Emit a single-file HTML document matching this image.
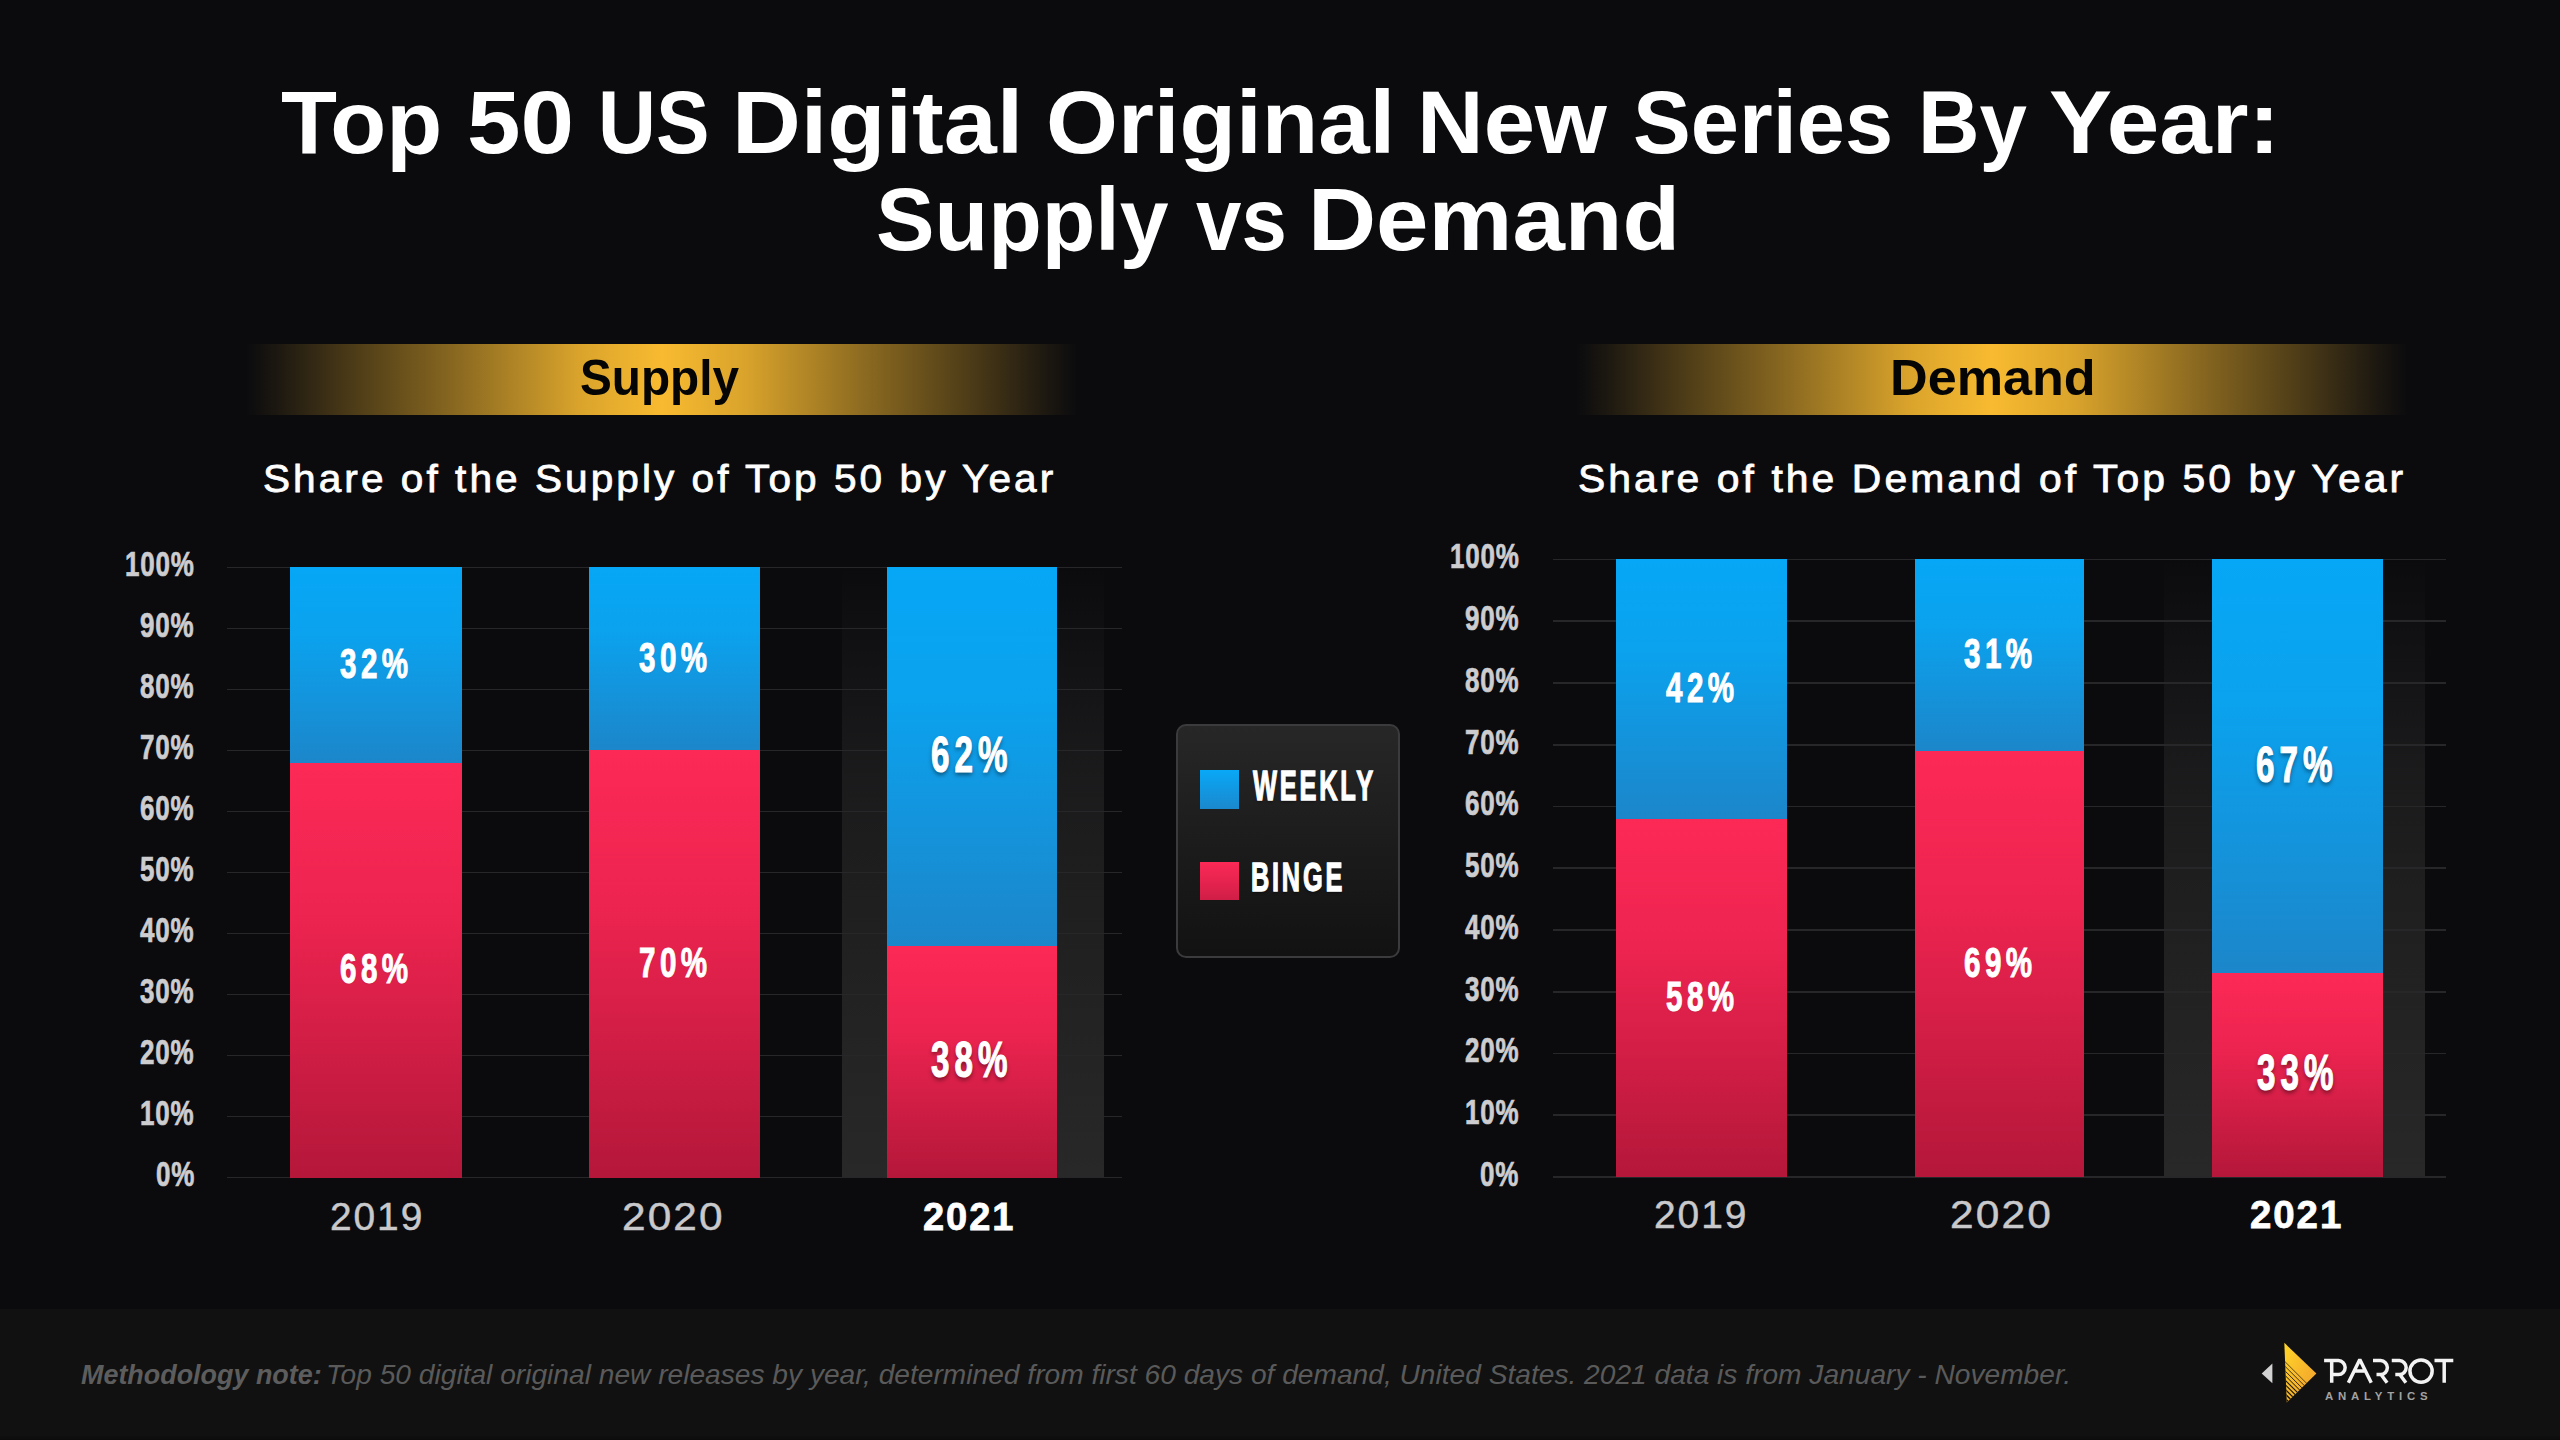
<!DOCTYPE html>
<html><head><meta charset="utf-8"><title>Top 50 US Digital Original New Series By Year</title>
<style>
html,body{margin:0;padding:0}
body{width:2560px;height:1440px;overflow:hidden;background:#0b0b0e;position:relative;font-family:"Liberation Sans",sans-serif}
.t{position:absolute;white-space:nowrap;line-height:1;transform-origin:0 0;font-family:"Liberation Sans",sans-serif}
.g{position:absolute;height:1.8px;background:#27272a}
.hl{position:absolute;background:linear-gradient(180deg,rgba(40,40,40,0) 0%,rgba(40,40,40,.55) 35%,#282828 100%)}
.bw{position:absolute;background:linear-gradient(180deg,#06a7f6 0%,#0ba2ee 35%,#1c86ca 100%)}
.bb{position:absolute;background:linear-gradient(180deg,#fc2956 0%,#ee2450 35%,#b4173a 100%)}
.gold{position:absolute;background:linear-gradient(90deg,rgba(248,186,48,0) 0%,rgba(248,186,48,.08) 4%,rgba(248,186,48,.28) 13%,rgba(248,186,48,.55) 26%,rgba(248,186,48,.87) 40%,#f8ba30 50%,rgba(248,186,48,.87) 60%,rgba(248,186,48,.55) 74%,rgba(248,186,48,.28) 87%,rgba(248,186,48,.08) 96%,rgba(248,186,48,0) 100%)}
.foot{position:absolute;left:0;top:1309px;width:2560px;height:131px;background:linear-gradient(180deg,#111 0,#111 126px,#0c0c0c 131px)}
.legend{position:absolute;left:1176px;top:724px;width:220px;height:229.5px;border:2px solid #3b3b3d;border-radius:10px;background:linear-gradient(180deg,#272727 0%,#1c1c1c 50%,#121212 100%)}
.sq{position:absolute;left:1200px;width:39px;height:38.5px}

</style></head>
<body>
<div class="gold" style="left:246px;top:343.5px;width:832px;height:71.5px"></div>
<div class="gold" style="left:1576px;top:343.5px;width:832px;height:71.5px"></div>
<div class="hl" style="left:841.7px;top:565.4px;width:262.3px;height:612.2px"></div>
<div class="g" style="left:227px;top:566.50px;width:895px"></div>
<div class="g" style="left:227px;top:627.52px;width:895px"></div>
<div class="g" style="left:227px;top:688.54px;width:895px"></div>
<div class="g" style="left:227px;top:749.56px;width:895px"></div>
<div class="g" style="left:227px;top:810.58px;width:895px"></div>
<div class="g" style="left:227px;top:871.60px;width:895px"></div>
<div class="g" style="left:227px;top:932.62px;width:895px"></div>
<div class="g" style="left:227px;top:993.64px;width:895px"></div>
<div class="g" style="left:227px;top:1054.66px;width:895px"></div>
<div class="g" style="left:227px;top:1115.68px;width:895px"></div>
<div class="g" style="left:227px;top:1176.70px;width:895px"></div>
<div class="bw" style="left:290px;top:567.40px;width:171.5px;height:195.26px"></div>
<div class="bb" style="left:290px;top:762.66px;width:171.5px;height:414.94px"></div>
<div class="bw" style="left:589.3px;top:567.40px;width:171.0px;height:183.06px"></div>
<div class="bb" style="left:589.3px;top:750.46px;width:171.0px;height:427.14px"></div>
<div class="bw" style="left:886.7px;top:567.40px;width:170.6px;height:378.32px"></div>
<div class="bb" style="left:886.7px;top:945.72px;width:170.6px;height:231.88px"></div>
<div class="hl" style="left:2164px;top:557.4px;width:261.0px;height:619.6px"></div>
<div class="g" style="left:1552.5px;top:558.50px;width:893.5px"></div>
<div class="g" style="left:1552.5px;top:620.26px;width:893.5px"></div>
<div class="g" style="left:1552.5px;top:682.02px;width:893.5px"></div>
<div class="g" style="left:1552.5px;top:743.78px;width:893.5px"></div>
<div class="g" style="left:1552.5px;top:805.54px;width:893.5px"></div>
<div class="g" style="left:1552.5px;top:867.30px;width:893.5px"></div>
<div class="g" style="left:1552.5px;top:929.06px;width:893.5px"></div>
<div class="g" style="left:1552.5px;top:990.82px;width:893.5px"></div>
<div class="g" style="left:1552.5px;top:1052.58px;width:893.5px"></div>
<div class="g" style="left:1552.5px;top:1114.34px;width:893.5px"></div>
<div class="g" style="left:1552.5px;top:1176.10px;width:893.5px"></div>
<div class="bw" style="left:1616px;top:559.40px;width:170.8px;height:259.39px"></div>
<div class="bb" style="left:1616px;top:818.79px;width:170.8px;height:358.21px"></div>
<div class="bw" style="left:1914.8px;top:559.40px;width:169.4px;height:191.46px"></div>
<div class="bb" style="left:1914.8px;top:750.86px;width:169.4px;height:426.14px"></div>
<div class="bw" style="left:2212px;top:559.40px;width:171.0px;height:413.79px"></div>
<div class="bb" style="left:2212px;top:973.19px;width:171.0px;height:203.81px"></div>
<div class="legend"></div>
<div class="sq" style="top:770px;background:linear-gradient(180deg,#08a8f7,#1b88cd)"></div>
<div class="sq" style="top:861.5px;background:linear-gradient(180deg,#fc2956,#d01e47)"></div>
<div class="foot"></div>
<svg style="position:absolute;left:2250px;top:1335px" width="230" height="80" viewBox="0 0 230 80">
<defs>
<linearGradient id="gd" x1="0" y1="0" x2="1" y2="1"><stop offset="0" stop-color="#ffd629"/><stop offset="0.55" stop-color="#f7b52b"/><stop offset="1" stop-color="#ee9c2f"/></linearGradient>
<clipPath id="tri"><polygon points="34.3,7.8 66.4,38.5 36.8,67.4"/></clipPath>
</defs>
<polygon points="11.7,38.5 22.4,28.4 22.4,48.2" fill="#d2d2d2"/>
<polygon points="34.3,7.8 66.4,38.5 36.8,67.4" fill="url(#gd)"/>
<g clip-path="url(#tri)">
<line x1="33" y1="24.7" x2="75" y2="66.7" stroke="#15130f" stroke-width="0.70"/>
<line x1="33" y1="29.3" x2="75" y2="71.3" stroke="#15130f" stroke-width="0.80"/>
<line x1="33" y1="33.9" x2="75" y2="75.9" stroke="#15130f" stroke-width="0.90"/>
<line x1="33" y1="38.4" x2="75" y2="80.4" stroke="#15130f" stroke-width="1.00"/>
<line x1="33" y1="43.0" x2="75" y2="85.0" stroke="#15130f" stroke-width="1.10"/>
<line x1="33" y1="47.5" x2="75" y2="89.5" stroke="#15130f" stroke-width="1.20"/>
<line x1="33" y1="52.1" x2="75" y2="94.1" stroke="#15130f" stroke-width="1.30"/>
<line x1="33" y1="56.7" x2="75" y2="98.7" stroke="#15130f" stroke-width="1.40"/>
<line x1="33" y1="61.2" x2="75" y2="103.2" stroke="#15130f" stroke-width="1.50"/>
</g>
<g fill="none" stroke="#f3f3f3" stroke-width="3.5" stroke-linejoin="bevel">
<path d="M74.1,25.55 H88.4 A7.03,7.03 0 0 1 88.4,39.6 H82.5 M81.7,25.55 V47.8"/>
<path d="M98.4,47.8 L109.8,24.6 L121.25,47.8 M104.4,36.1 H115.3"/>
<path d="M123,25.55 H130.6 A7.03,7.03 0 0 1 130.6,39.6 H126.5 M131.2,39.8 L137.1,47.8"/>
<path d="M141.75,25.55 H149.4 A7.03,7.03 0 0 1 149.4,39.6 H145.3 M150,39.8 L155.9,47.8"/>
<circle cx="171.05" cy="36.1" r="11.1"/>
<path d="M184.5,25.55 H203.3 M194.2,25.55 V47.8"/>
</g>
</svg>
<div class="t" style="left:281.08px;top:77.76px;font-size:88.99px;font-weight:700;color:#fff;transform:scaleX(1.0301);">Top</div>
<div class="t" style="left:467.12px;top:77.76px;font-size:88.99px;font-weight:700;color:#fff;transform:scaleX(1.0806);">50</div>
<div class="t" style="left:597.69px;top:77.76px;font-size:88.99px;font-weight:700;color:#fff;transform:scaleX(0.9016);">US</div>
<div class="t" style="left:732.08px;top:77.76px;font-size:88.99px;font-weight:700;color:#fff;transform:scaleX(1.0709);">Digital</div>
<div class="t" style="left:1046.30px;top:77.76px;font-size:88.99px;font-weight:700;color:#fff;transform:scaleX(1.0387);">Original</div>
<div class="t" style="left:1417.14px;top:77.76px;font-size:88.99px;font-weight:700;color:#fff;transform:scaleX(1.0368);">New</div>
<div class="t" style="left:1633.00px;top:77.76px;font-size:88.99px;font-weight:700;color:#fff;transform:scaleX(0.9738);">Series</div>
<div class="t" style="left:1917.79px;top:77.76px;font-size:88.99px;font-weight:700;color:#fff;transform:scaleX(0.9576);">By</div>
<div class="t" style="left:2049.11px;top:77.76px;font-size:88.99px;font-weight:700;color:#fff;transform:scaleX(1.0611);">Year:</div>
<div class="t" style="left:876.37px;top:175.06px;font-size:88.99px;font-weight:700;color:#fff;transform:scaleX(0.9862);">Supply</div>
<div class="t" style="left:1195.50px;top:175.06px;font-size:88.99px;font-weight:700;color:#fff;transform:scaleX(0.9169);">vs</div>
<div class="t" style="left:1308.40px;top:175.06px;font-size:88.99px;font-weight:700;color:#fff;transform:scaleX(1.0598);">Demand</div>
<div class="t" style="left:579.77px;top:352.82px;font-size:49.28px;font-weight:700;color:#050505;transform:scaleX(0.9686);">Supply</div>
<div class="t" style="left:1890.35px;top:352.82px;font-size:49.28px;font-weight:700;color:#050505;transform:scaleX(1.0584);">Demand</div>
<div class="t" style="left:263.18px;top:459.27px;font-size:39.57px;font-weight:400;letter-spacing:0.075em;color:#fff;transform:scaleX(1.0257);-webkit-text-stroke:0.02em #fff;">Share of the Supply of Top 50 by Year</div>
<div class="t" style="left:1578.37px;top:459.27px;font-size:39.57px;font-weight:400;letter-spacing:0.075em;color:#fff;transform:scaleX(1.0328);-webkit-text-stroke:0.02em #fff;">Share of the Demand of Top 50 by Year</div>
<div class="t" style="left:125.20px;top:547.28px;font-size:35.89px;font-weight:700;letter-spacing:0.03em;color:#cdcdd0;transform:scaleX(0.7236);-webkit-text-stroke:0.02em #cdcdd0;">100%</div>
<div class="t" style="left:140.26px;top:608.30px;font-size:35.89px;font-weight:700;letter-spacing:0.03em;color:#cdcdd0;transform:scaleX(0.7236);-webkit-text-stroke:0.02em #cdcdd0;">90%</div>
<div class="t" style="left:140.26px;top:669.32px;font-size:35.89px;font-weight:700;letter-spacing:0.03em;color:#cdcdd0;transform:scaleX(0.7236);-webkit-text-stroke:0.02em #cdcdd0;">80%</div>
<div class="t" style="left:140.26px;top:730.34px;font-size:35.89px;font-weight:700;letter-spacing:0.03em;color:#cdcdd0;transform:scaleX(0.7236);-webkit-text-stroke:0.02em #cdcdd0;">70%</div>
<div class="t" style="left:140.26px;top:791.36px;font-size:35.89px;font-weight:700;letter-spacing:0.03em;color:#cdcdd0;transform:scaleX(0.7236);-webkit-text-stroke:0.02em #cdcdd0;">60%</div>
<div class="t" style="left:140.26px;top:852.38px;font-size:35.89px;font-weight:700;letter-spacing:0.03em;color:#cdcdd0;transform:scaleX(0.7236);-webkit-text-stroke:0.02em #cdcdd0;">50%</div>
<div class="t" style="left:140.26px;top:913.40px;font-size:35.89px;font-weight:700;letter-spacing:0.03em;color:#cdcdd0;transform:scaleX(0.7236);-webkit-text-stroke:0.02em #cdcdd0;">40%</div>
<div class="t" style="left:140.26px;top:974.42px;font-size:35.89px;font-weight:700;letter-spacing:0.03em;color:#cdcdd0;transform:scaleX(0.7236);-webkit-text-stroke:0.02em #cdcdd0;">30%</div>
<div class="t" style="left:140.26px;top:1035.44px;font-size:35.89px;font-weight:700;letter-spacing:0.03em;color:#cdcdd0;transform:scaleX(0.7236);-webkit-text-stroke:0.02em #cdcdd0;">20%</div>
<div class="t" style="left:140.26px;top:1096.46px;font-size:35.89px;font-weight:700;letter-spacing:0.03em;color:#cdcdd0;transform:scaleX(0.7236);-webkit-text-stroke:0.02em #cdcdd0;">10%</div>
<div class="t" style="left:155.59px;top:1157.48px;font-size:35.89px;font-weight:700;letter-spacing:0.03em;color:#cdcdd0;transform:scaleX(0.7236);-webkit-text-stroke:0.02em #cdcdd0;">0%</div>
<div class="t" style="left:340.15px;top:643.09px;font-size:42.47px;font-weight:700;letter-spacing:0.15em;color:#fff;transform:scaleX(0.6961);-webkit-text-stroke:0.024em #fff;text-shadow:0 1px 2px rgba(0,0,0,.12);">32%</div>
<div class="t" style="left:340.01px;top:948.19px;font-size:42.47px;font-weight:700;letter-spacing:0.15em;color:#fff;transform:scaleX(0.6961);-webkit-text-stroke:0.024em #fff;text-shadow:0 1px 2px rgba(0,0,0,.12);">68%</div>
<div class="t" style="left:639.20px;top:636.98px;font-size:42.47px;font-weight:700;letter-spacing:0.15em;color:#fff;transform:scaleX(0.6961);-webkit-text-stroke:0.024em #fff;text-shadow:0 1px 2px rgba(0,0,0,.12);">30%</div>
<div class="t" style="left:638.91px;top:942.08px;font-size:42.47px;font-weight:700;letter-spacing:0.15em;color:#fff;transform:scaleX(0.6961);-webkit-text-stroke:0.024em #fff;text-shadow:0 1px 2px rgba(0,0,0,.12);">70%</div>
<div class="t" style="left:930.89px;top:730.88px;font-size:49.86px;font-weight:700;letter-spacing:0.15em;color:#fff;transform:scaleX(0.6661);-webkit-text-stroke:0.024em #fff;text-shadow:0 3px 5px rgba(0,0,0,.45);">62%</div>
<div class="t" style="left:931.05px;top:1035.98px;font-size:49.86px;font-weight:700;letter-spacing:0.15em;color:#fff;transform:scaleX(0.6661);-webkit-text-stroke:0.024em #fff;text-shadow:0 3px 5px rgba(0,0,0,.45);">38%</div>
<div class="t" style="left:329.65px;top:1198.09px;font-size:38.63px;font-weight:400;letter-spacing:0.05em;color:#c9c9cb;transform:scaleX(1.0061);-webkit-text-stroke:0.012em #c9c9cb;">2019</div>
<div class="t" style="left:621.91px;top:1198.09px;font-size:38.63px;font-weight:400;letter-spacing:0.05em;color:#c9c9cb;transform:scaleX(1.0962);-webkit-text-stroke:0.012em #c9c9cb;">2020</div>
<div class="t" style="left:922.74px;top:1198.09px;font-size:38.63px;font-weight:700;letter-spacing:0.05em;color:#fff;transform:scaleX(0.9857);-webkit-text-stroke:0.02em #fff;">2021</div>
<div class="t" style="left:1449.80px;top:539.28px;font-size:35.89px;font-weight:700;letter-spacing:0.03em;color:#cdcdd0;transform:scaleX(0.7236);-webkit-text-stroke:0.02em #cdcdd0;">100%</div>
<div class="t" style="left:1464.86px;top:601.04px;font-size:35.89px;font-weight:700;letter-spacing:0.03em;color:#cdcdd0;transform:scaleX(0.7236);-webkit-text-stroke:0.02em #cdcdd0;">90%</div>
<div class="t" style="left:1464.86px;top:662.80px;font-size:35.89px;font-weight:700;letter-spacing:0.03em;color:#cdcdd0;transform:scaleX(0.7236);-webkit-text-stroke:0.02em #cdcdd0;">80%</div>
<div class="t" style="left:1464.86px;top:724.56px;font-size:35.89px;font-weight:700;letter-spacing:0.03em;color:#cdcdd0;transform:scaleX(0.7236);-webkit-text-stroke:0.02em #cdcdd0;">70%</div>
<div class="t" style="left:1464.86px;top:786.32px;font-size:35.89px;font-weight:700;letter-spacing:0.03em;color:#cdcdd0;transform:scaleX(0.7236);-webkit-text-stroke:0.02em #cdcdd0;">60%</div>
<div class="t" style="left:1464.86px;top:848.08px;font-size:35.89px;font-weight:700;letter-spacing:0.03em;color:#cdcdd0;transform:scaleX(0.7236);-webkit-text-stroke:0.02em #cdcdd0;">50%</div>
<div class="t" style="left:1464.86px;top:909.84px;font-size:35.89px;font-weight:700;letter-spacing:0.03em;color:#cdcdd0;transform:scaleX(0.7236);-webkit-text-stroke:0.02em #cdcdd0;">40%</div>
<div class="t" style="left:1464.86px;top:971.60px;font-size:35.89px;font-weight:700;letter-spacing:0.03em;color:#cdcdd0;transform:scaleX(0.7236);-webkit-text-stroke:0.02em #cdcdd0;">30%</div>
<div class="t" style="left:1464.86px;top:1033.36px;font-size:35.89px;font-weight:700;letter-spacing:0.03em;color:#cdcdd0;transform:scaleX(0.7236);-webkit-text-stroke:0.02em #cdcdd0;">20%</div>
<div class="t" style="left:1464.86px;top:1095.12px;font-size:35.89px;font-weight:700;letter-spacing:0.03em;color:#cdcdd0;transform:scaleX(0.7236);-webkit-text-stroke:0.02em #cdcdd0;">10%</div>
<div class="t" style="left:1480.19px;top:1156.88px;font-size:35.89px;font-weight:700;letter-spacing:0.03em;color:#cdcdd0;transform:scaleX(0.7236);-webkit-text-stroke:0.02em #cdcdd0;">0%</div>
<div class="t" style="left:1665.95px;top:667.15px;font-size:42.47px;font-weight:700;letter-spacing:0.15em;color:#fff;transform:scaleX(0.6961);-webkit-text-stroke:0.024em #fff;text-shadow:0 1px 2px rgba(0,0,0,.12);">42%</div>
<div class="t" style="left:1665.66px;top:975.95px;font-size:42.47px;font-weight:700;letter-spacing:0.15em;color:#fff;transform:scaleX(0.6961);-webkit-text-stroke:0.024em #fff;text-shadow:0 1px 2px rgba(0,0,0,.12);">58%</div>
<div class="t" style="left:1963.90px;top:633.18px;font-size:42.47px;font-weight:700;letter-spacing:0.15em;color:#fff;transform:scaleX(0.6961);-webkit-text-stroke:0.024em #fff;text-shadow:0 1px 2px rgba(0,0,0,.12);">31%</div>
<div class="t" style="left:1963.76px;top:941.98px;font-size:42.47px;font-weight:700;letter-spacing:0.15em;color:#fff;transform:scaleX(0.6961);-webkit-text-stroke:0.024em #fff;text-shadow:0 1px 2px rgba(0,0,0,.12);">69%</div>
<div class="t" style="left:2256.39px;top:740.62px;font-size:49.86px;font-weight:700;letter-spacing:0.15em;color:#fff;transform:scaleX(0.6661);-webkit-text-stroke:0.024em #fff;text-shadow:0 3px 5px rgba(0,0,0,.45);">67%</div>
<div class="t" style="left:2256.55px;top:1049.42px;font-size:49.86px;font-weight:700;letter-spacing:0.15em;color:#fff;transform:scaleX(0.6661);-webkit-text-stroke:0.024em #fff;text-shadow:0 3px 5px rgba(0,0,0,.45);">33%</div>
<div class="t" style="left:1654.04px;top:1195.99px;font-size:38.63px;font-weight:400;letter-spacing:0.05em;color:#c9c9cb;transform:scaleX(1.0072);-webkit-text-stroke:0.012em #c9c9cb;">2019</div>
<div class="t" style="left:1950.30px;top:1195.99px;font-size:38.63px;font-weight:400;letter-spacing:0.05em;color:#c9c9cb;transform:scaleX(1.0985);-webkit-text-stroke:0.012em #c9c9cb;">2020</div>
<div class="t" style="left:2250.23px;top:1195.99px;font-size:38.63px;font-weight:700;letter-spacing:0.05em;color:#fff;transform:scaleX(0.9956);-webkit-text-stroke:0.02em #fff;">2021</div>
<div class="t" style="left:1252.51px;top:765.07px;font-size:41.64px;font-weight:700;letter-spacing:0.11em;color:#fff;transform:scaleX(0.6101);-webkit-text-stroke:0.032em #fff;text-shadow:0 2px 3px rgba(0,0,0,.4);">WEEKLY</div>
<div class="t" style="left:1250.73px;top:857.24px;font-size:41.20px;font-weight:700;letter-spacing:0.11em;color:#fff;transform:scaleX(0.6143);-webkit-text-stroke:0.032em #fff;text-shadow:0 2px 3px rgba(0,0,0,.4);">BINGE</div>
<div class="t" style="left:80.76px;top:1360.82px;font-size:27.86px;font-weight:700;font-style:italic;color:#5d5d5d;transform:scaleX(0.9660);">Methodology note:</div>
<div class="t" style="left:326.27px;top:1360.48px;font-size:28.26px;font-weight:400;font-style:italic;color:#5a5a5a;transform:scaleX(0.9961);">Top 50 digital original new releases by year, determined from first 60 days of demand, United States. 2021 data is from January - November.</div>
<div class="t" style="left:2325.46px;top:1391.68px;font-size:10.14px;font-weight:700;letter-spacing:0.42em;color:#a2a2a2;transform:scaleX(1.1254);">ANALYTICS</div>
</body></html>
